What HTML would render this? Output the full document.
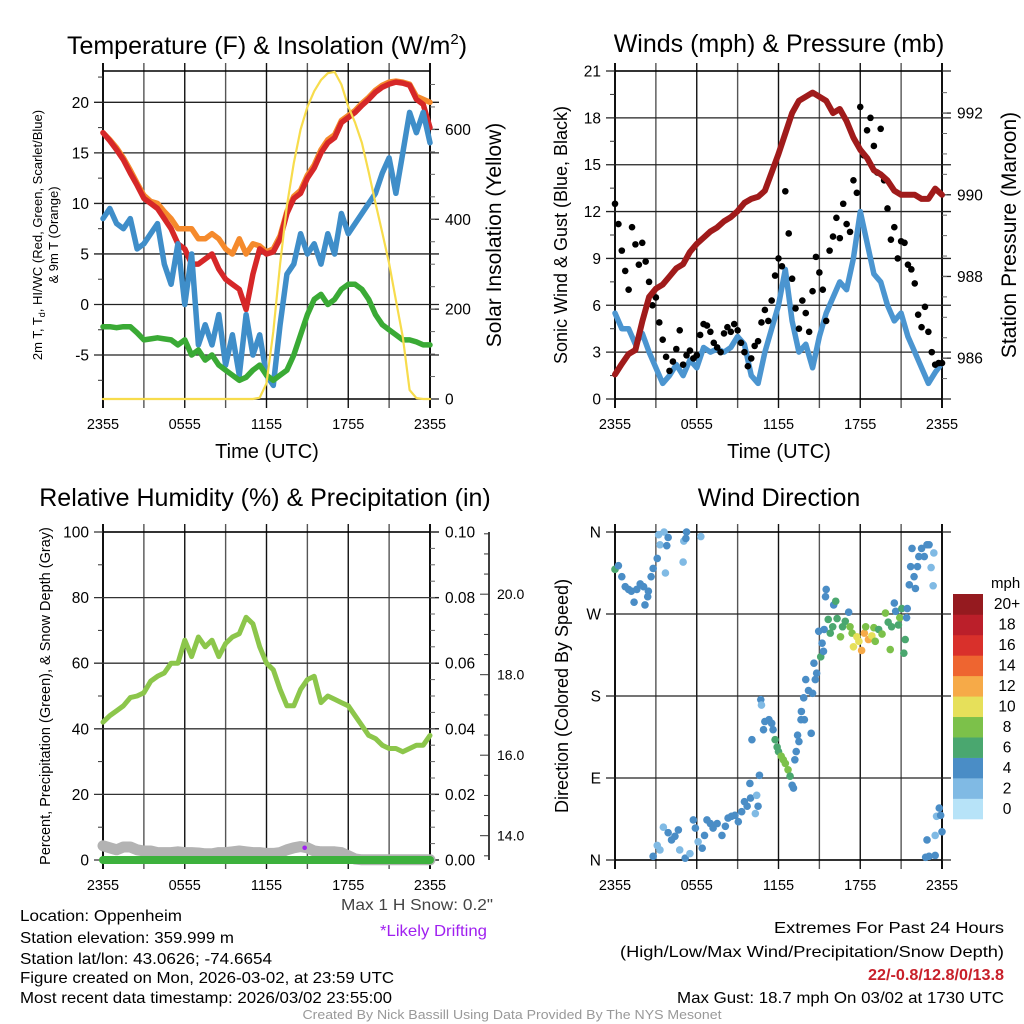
<!DOCTYPE html>
<html><head><meta charset="utf-8">
<style>
html,body{margin:0;padding:0;background:#fff;}
svg{display:block;font-family:"Liberation Sans",sans-serif;}
</style></head>
<body>
<svg id="fig" width="1024" height="1024" viewBox="0 0 1024 1024" xmlns="http://www.w3.org/2000/svg">
<rect x="0" y="0" width="1024" height="1024" fill="#fff"/>
<!-- titles -->
<text x="267" y="54" font-size="25" text-anchor="middle">Temperature (F) &amp; Insolation (W/m<tspan font-size="15" dy="-10">2</tspan><tspan dy="10">)</tspan></text>
<text x="779" y="52" font-size="25" text-anchor="middle">Winds (mph) &amp; Pressure (mb)</text>
<text x="265" y="506" font-size="25" text-anchor="middle">Relative Humidity (%) &amp; Precipitation (in)</text>
<text x="779" y="506" font-size="25" text-anchor="middle">Wind Direction</text>
<!-- axis titles -->
<text x="267" y="458" font-size="20" text-anchor="middle">Time (UTC)</text>
<text x="779" y="458" font-size="20" text-anchor="middle">Time (UTC)</text>
<text transform="translate(42,235) rotate(-90)" font-size="13" text-anchor="middle">2m T, T<tspan font-size="9" dy="3">d</tspan><tspan dy="-3">, HI/WC (Red, Green, Scarlet/Blue)</tspan></text>
<text transform="translate(58,235) rotate(-90)" font-size="13" text-anchor="middle">&amp; 9m T (Orange)</text>
<text transform="translate(501,235) rotate(-90)" font-size="21" text-anchor="middle">Solar Insolation (Yellow)</text>
<text transform="translate(567,235) rotate(-90)" font-size="18" text-anchor="middle">Sonic Wind &amp; Gust (Blue, Black)</text>
<text transform="translate(1016,235) rotate(-90)" font-size="21" text-anchor="middle">Station Pressure (Maroon)</text>
<text transform="translate(50,696) rotate(-90)" font-size="14.5" text-anchor="middle">Percent, Precipitation (Green), &amp; Snow Depth (Gray)</text>
<text transform="translate(568,696) rotate(-90)" font-size="18" text-anchor="middle">Direction (Colored By Speed)</text>
<!-- footer text -->
<g font-size="16" fill="#000">
<text x="20" y="921" textLength="162" lengthAdjust="spacingAndGlyphs">Location: Oppenheim</text>
<text x="20" y="943" textLength="214" lengthAdjust="spacingAndGlyphs">Station elevation: 359.999 m</text>
<text x="20" y="964" textLength="252" lengthAdjust="spacingAndGlyphs">Station lat/lon: 43.0626; -74.6654</text>
<text x="20" y="983" textLength="374" lengthAdjust="spacingAndGlyphs">Figure created on Mon, 2026-03-02, at 23:59 UTC</text>
<text x="20" y="1003" textLength="372" lengthAdjust="spacingAndGlyphs">Most recent data timestamp: 2026/03/02 23:55:00</text>
<text x="1004" y="933" text-anchor="end" textLength="230" lengthAdjust="spacingAndGlyphs">Extremes For Past 24 Hours</text>
<text x="1004" y="957" text-anchor="end" textLength="384" lengthAdjust="spacingAndGlyphs">(High/Low/Max Wind/Precipitation/Snow Depth)</text>
<text x="1004" y="980" text-anchor="end" font-weight="bold" fill="#c8202a" textLength="136" lengthAdjust="spacingAndGlyphs">22/-0.8/12.8/0/13.8</text>
<text x="1004" y="1003" text-anchor="end" textLength="327" lengthAdjust="spacingAndGlyphs">Max Gust: 18.7 mph On 03/02 at 1730 UTC</text>
<text x="493" y="910" text-anchor="end" fill="#444" textLength="152" lengthAdjust="spacingAndGlyphs">Max 1 H Snow: 0.2"</text>
<text x="487" y="936" text-anchor="end" fill="#a020f0" textLength="107" lengthAdjust="spacingAndGlyphs">*Likely Drifting</text>
<text x="512" y="1019" text-anchor="middle" font-size="13" fill="#999" textLength="419" lengthAdjust="spacingAndGlyphs">Created By Nick Bassill Using Data Provided By The NYS Mesonet</text>
</g>
<g id="layer"></g>
</svg>
<script>
// ===== data (half-hourly, 2355 -> 2355 UTC) =====
const temp2m = [17,16.2,15.3,14.3,13,11.8,10.5,10,9.5,8.5,7.5,6,5.5,4,4,4.5,5,3.5,2.5,2,1.5,-0.5,3,5.5,5,5.2,6.5,9,10.5,11,12.5,13.5,15,16,16.5,18,18.5,19,19.7,20.3,21,21.5,21.8,22,21.9,21.7,20.3,19.8,17.5];
const temp9m = [17,16.3,15.5,14.5,13.3,12,10.8,10.2,10,9.2,8.5,7.5,7.5,7.5,6.5,6.5,7,6.5,5.5,5,6.5,5,6,5.8,5.2,5.5,6.8,9.2,10.7,11.3,12.8,13.8,15.3,16.3,16.8,18.2,18.7,19.2,19.9,20.5,21.2,21.7,22,22.1,22,21.8,20.6,20.3,20];
const dewpoint = [-2.2,-2.2,-2.3,-2.2,-2.2,-2.8,-3.5,-3.4,-3.3,-3.4,-3.5,-4,-3.5,-5,-4.5,-5.5,-5,-6,-6.5,-7,-7.5,-7.2,-6.5,-6,-7,-7.5,-7,-6.5,-5,-3,-1,0.5,1,0,0.5,1.5,2,2,1.5,0.5,-1,-2,-2.5,-3,-3.5,-3.5,-3.7,-4,-4];
const windChill = [8.5,9.5,8,7.5,8.5,5.5,6,7,8,4,2,6,0,5,-4,-2,-4,-1,-6,-3,-7,-1,-5,-3,-7,-8,-2,3,4,7,5,6,4,7,5,9,7,8,9,10,11,13,14.5,11,15,19,17,19,16];
const solar = [0,0,0,0,0,0,0,0,0,0,0,0,0,0,0,0,0,0,0,0,0,0,0,3,35,150,300,430,525,600,650,685,710,725,728,700,651,615,570,505,436,370,302,220,138,20,2,0,0];
const windSpeed = [5.5,4.5,4.5,3.5,4.2,3,2,1,1.5,2.2,1.5,2.5,2,3.3,3,3.2,3,3.3,4,3.5,1.5,1,3,4.5,6,8.3,5,3,3.5,2,4,5.5,6.5,7.5,7,9,12,10,8,7.5,6,5,5.5,4,3,2,1,1.7,2.3];
const pressure = [985.6,985.86,986.1,986.2,986.9,987.5,987.7,987.8,988,988.2,988.3,988.6,988.8,988.95,989.1,989.2,989.35,989.45,989.6,989.8,989.9,989.95,990.1,990.55,991,991.5,992,992.3,992.4,992.5,992.4,992.3,992,992.1,991.8,991.4,991.1,990.9,990.6,990.5,990.35,990.1,990,990,990,989.9,989.9,990.15,990];
// gusts every quarter hour
const gusts = [12.5,11.2,9.5,8.2,7,11,9.9,8.6,10,8.8,7.5,6,6.5,4.9,3.8,2.7,1.8,2.4,3.2,4.4,2.2,2.8,3.1,2.6,2.8,4.1,4.8,4.7,4.3,3.6,3.3,3.0,4.2,4.6,4.3,4.8,4.4,3.6,3.0,2.1,2.6,3.4,3.7,4.9,5.7,5.0,6.3,7.9,9.0,8.5,13.3,10.6,7.7,5.8,4.5,6.3,5.5,4.3,6.9,9.1,8.1,7.0,5.0,9.5,10.4,11.6,10.3,12.5,11.2,10.7,14,13.2,18.7,15.6,17.2,18.0,16.2,14.5,17.3,14.0,12.2,10.2,11.0,9.0,10.1,10.0,8.6,8.3,7.4,5.4,4.6,5.9,4.3,3.0,2.2,2.3,2.3];
const relHum = [42,44,45.5,47,49.5,50,51,54.5,56,57,60,60,67,62,68,65,67,62,66,68,69,74,72,65,60,58,52,47,47,52,55,56,48,50,49,48,47,44,41,38,37,35,34,34,33,34,35,35,38];
const snowDepth = [13.75,13.7,13.65,13.72,13.72,13.65,13.62,13.62,13.58,13.58,13.58,13.6,13.58,13.58,13.57,13.55,13.55,13.58,13.58,13.6,13.62,13.6,13.58,13.58,13.56,13.56,13.58,13.65,13.7,13.73,13.7,13.62,13.6,13.6,13.6,13.58,13.5,13.42,13.4,13.4,13.4,13.4,13.4,13.4,13.4,13.4,13.4,13.4,13.4];
const precip = [0,0,0,0,0,0,0,0,0,0,0,0,0,0,0,0,0,0,0,0,0,0,0,0,0,0,0,0,0,0,0,0,0,0,0,0,0,0,0,0,0,0,0,0,0,0,0,0,0];
const driftHours = [14.8];
const driftValues = [13.7];
// wind direction scatter
const dirHours = [0,0.25,0.5,0.75,1,1.2,1.4,1.6,1.85,2.1,2.2,2.4,2.45,2.65,2.8,3.1,3.2,3.3,3.6,3.7,3.8,3.9,5.0,5.05,5.2,5.25,6.3,
2.8,3.1,3.3,3.55,3.9,4.15,4.4,4.65,4.75,5.15,5.5,5.75,5.9,6.1,6.4,6.57,6.75,7.0,7.2,7.5,7.85,8.1,8.3,8.55,8.8,9.05,9.3,9.5,9.7,9.95,10.3,10.4,10.5,10.6,9.9,10.05,10.7,10.75,10.9,11.0,11.3,11.5,11.6,11.75,11.9,12.0,12.2,12.35,12.5,12.7,12.85,13.0,13.1,13.2,13.3,13.4,13.5,13.65,13.68,13.85,13.9,14.0,14.2,14.4,14.5,14.6,14.7,14.8,14.95,15.1,15.2,15.3,15.35,15.45,15.5,15.65,15.8,15.98,16.05,16.2,16.3,16.55,16.7,16.9,17.15,17.25,17.4,17.5,17.75,17.9,18.1,18.3,18.4,18.6,18.85,19.0,19.1,19.35,19.6,19.85,20.05,20.2,20.3,20.5,20.6,20.8,20.9,21.05,21.2,21.3,21.45,21.4,21.6,21.7,21.8,21.95,22.05,22.2,22.3,22.5,22.7,22.9,23.05,23.2,23.35,23.4,
22.9,22.8,23.05,23.5,23.5,23.6,23.8,23.9,24];
const dirDegrees = [319,323,311,300,297,295,283,297,303,300,280,289,295,311,320,331,357,346,360,315,345,354,327,350,353,360,355,
4,16,11,36,30,22,26,33,11,2,7,44,35,20,13,27,44,40,35,40,27,37,46,48,49,42,53,64,59,68,51,71,59,93,84,132,176,170,143,152,154,150,143,132,124,119,114,110,106,99,92,82,79,110,119,137,130,154,163,178,154,198,186,139,183,216,198,205,251,223,238,229,253,289,297,264,249,256,280,284,265,245,256,262,272,256,249,234,245,240,230,249,256,242,246,255,240,253,248,271,261,231,256,282,273,258,266,276,227,242,276,266,302,322,342,311,298,322,333,342,333,346,346,321,301,337,
22,3,4,5,27,48,57,49,31];
const dirSpeeds = [6.5,4.5,4.5,4.5,4.5,4.5,4.5,3,3,4.5,4.5,4.5,3,3,3,3,1,1,1,1,3,3,1,1,3,3,1,
3,1,1,1,3,3,3,3,1,3,1,3,3,1,3,3,4.5,4.5,3,4.5,3,3,3,4.5,4.5,4.5,4.5,4.5,3,3,1,1,3,4.5,3,3,3,1,3,4.5,4.5,4.5,4.5,6.5,6.5,6.5,8.5,8.5,8.5,8.5,6.5,4.5,4.5,3,3,3,3,4.5,3,3,4.5,4.5,3,3,3,3,4.5,3,3,6.5,4.5,4.5,3,4.5,3,6.5,6.5,6.5,4.5,6.5,6.5,8.5,6.5,6.5,4.5,8.5,8.5,10.5,10.5,10.5,12.5,12.5,8.5,12.5,10.5,8.5,8.5,6.5,8.5,8.5,6.5,8.5,6.5,4.5,4.5,6.5,8.5,6.5,6.5,6.5,4.5,4.5,4.5,4.5,4.5,4.5,3,3,3,4.5,4.5,3,3,1,1,1,
3,3,3,3,1,1,3,3,3];
const speedBins = ["0","2","4","6","8","10","12","14","16","18","20+"];
const speedColors = ["#b7e3f8","#80bae4","#4a8dc6","#4aa76f","#7cc14a","#e6e05a","#f6aa48","#ee6530","#d9302b","#bb1f2a","#951a1f"];
const timeTickLabels = ["2355","0555","1155","1755","2355"];
const tempTicks = [-5,0,5,10,15,20];
const solarTicks = [0,200,400,600];
const windTicks = [0,3,6,9,12,15,18,21];
const pressTicks = [986,988,990,992];
const rhTicks = [0,20,40,60,80,100];
const precipTicks = ["0.00","0.02","0.04","0.06","0.08","0.10"];
const snowTicks = ["14.0","16.0","18.0","20.0"];
const dirTicks = ["N","E","S","W","N"];

// ===== drawing =====
const NS = "http://www.w3.org/2000/svg";
const layer = document.getElementById("layer");
function mk(tag, parent){ const e = document.createElementNS(NS, tag); (parent||layer).appendChild(e); return e; }
function lin(d0,d1,r0,r1){ return v => r0 + (v-d0)/(d1-d0)*(r1-r0); }
function halfHour(i){ return i*0.5; }
function quarterHour(i){ return i*0.25; }

function frame(P, name, leftTicks, leftScale, leftLabels, leftMinor, rightTicks, rightScale, rightLabels, rightMinor, gridColor){
  const g = mk("g");
  
  
  for (let k=0;k<=8;k++){
    const x = P.x0 + k*(P.x1-P.x0)/8;
    const l = mk("line", g);
    
    
    l.setAttribute("x1",x); l.setAttribute("x2",x); l.setAttribute("y1",P.y0-8); l.setAttribute("y2",P.y1+9);
    l.setAttribute("stroke", (k%2==0)?"#111":"#555"); l.setAttribute("stroke-width", (k==0||k==8)?2:1.4);
  }
  leftTicks.forEach((v,i)=>{
    const y = leftScale(v);
    const l = mk("line", g);
    
    
    l.setAttribute("x1",P.x0-9); l.setAttribute("x2",P.x1+9); l.setAttribute("y1",y); l.setAttribute("y2",y);
    l.setAttribute("stroke", gridColor||"#222"); l.setAttribute("stroke-width",1.3);
    const t = mk("text", g);
    
    
    t.setAttribute("x",P.x0-14); t.setAttribute("y",y+5.5); t.setAttribute("font-size","15.5"); t.setAttribute("text-anchor","end");
    t.textContent = leftLabels[i];
  });
  leftMinor.forEach(v=>{
    const y = leftScale(v); const l = mk("line", g);
    
    
    l.setAttribute("x1",P.x0-5); l.setAttribute("x2",P.x0); l.setAttribute("y1",y); l.setAttribute("y2",y);
    l.setAttribute("stroke","#333"); l.setAttribute("stroke-width",1);
  });
  if (rightTicks){
    rightTicks.forEach((v,i)=>{
      const y = rightScale(v);
      const l = mk("line", g);
      
      
      l.setAttribute("x1",P.x1); l.setAttribute("x2",P.x1+9); l.setAttribute("y1",y); l.setAttribute("y2",y);
      l.setAttribute("stroke","#222"); l.setAttribute("stroke-width",1.3);
      const t = mk("text", g);
      
      
      t.setAttribute("x",P.x1+15); t.setAttribute("y",y+5.5); t.setAttribute("font-size","15.5");
      t.textContent = rightLabels[i];
    });
    rightMinor.forEach(v=>{
      const y = rightScale(v); const l = mk("line", g);
      
      
      l.setAttribute("x1",P.x1); l.setAttribute("x2",P.x1+5); l.setAttribute("y1",y); l.setAttribute("y2",y);
      l.setAttribute("stroke","#666"); l.setAttribute("stroke-width",1);
    });
  }
  [[P.x0,P.y0,P.x1,P.y0],[P.x0,P.y1,P.x1,P.y1]].forEach(c=>{
    const l = mk("line", g);
    
    
    l.setAttribute("x1",c[0]); l.setAttribute("y1",c[1]); l.setAttribute("x2",c[2]); l.setAttribute("y2",c[3]);
    l.setAttribute("stroke","#000"); l.setAttribute("stroke-width",1.5);
  });
  timeTickLabels.forEach((s,i)=>{
    const t = mk("text", g);
    
    
    t.setAttribute("x", P.x0 + i*(P.x1-P.x0)/4); t.setAttribute("y", P.y1+30);
    t.setAttribute("font-size","14.5"); t.setAttribute("text-anchor","middle");
    t.textContent = s;
  });
}
function series(vals, tfun, xs, ys, color, w, name){
  const pts = vals.map((v,i)=> xs(tfun(i)).toFixed(1)+","+ys(v).toFixed(1)).join(" ");
  const p = mk("polyline");
  
  
  p.setAttribute("points", pts); p.setAttribute("fill","none"); p.setAttribute("stroke",color);
  p.setAttribute("stroke-width", w); p.setAttribute("stroke-linejoin","round"); p.setAttribute("stroke-linecap","round");
  return p;
}
function dots(hours, vals, xs, ys, r, colorFn, name){
  vals.forEach((v,i)=>{
    const c = mk("circle");
    
    
    c.setAttribute("cx", xs(hours[i])); c.setAttribute("cy", ys(v)); c.setAttribute("r", r);
    c.setAttribute("fill", colorFn(i));
  });
}
function range(a,b,s){ const r=[]; for(let v=a; v<=b+1e-9; v+=s) r.push(+v.toFixed(4)); return r; }

// Panel 1
const P1 = {x0:103,x1:430,y0:71,y1:399};
const x1s = lin(0,24,P1.x0,P1.x1);
const tY = lin(-9.35,23.1,399,71);
const sY = lin(0,730,399,71);
frame(P1,"temp",tempTicks,tY,tempTicks.map(String),range(-7.5,22.5,5),solarTicks,sY,solarTicks.map(String),range(50,700,50));
series(temp9m, halfHour, x1s, tY, "#f58a2c", 5.5, "temp-9m-line");
series(temp2m, halfHour, x1s, tY, "#d62728", 5.5, "temp-2m-line");
series(windChill, halfHour, x1s, tY, "#3f8ec9", 5.5, "windchill-line");
series(dewpoint, halfHour, x1s, tY, "#3aaa35", 5.5, "dewpoint-line");
series(solar, halfHour, x1s, sY, "#f7dc4c", 2.2, "solar-line");

// Panel 2
const P2 = {x0:615,x1:942,y0:71,y1:399};
const x2s = lin(0,24,P2.x0,P2.x1);
const wY = lin(0,21,399,71);
const pY = lin(985,993.03,399,71);
frame(P2,"wind",windTicks,wY,windTicks.map(String),range(1.5,19.5,3),pressTicks,pY,pressTicks.map(String),range(985.5,992.5,0.5));
series(windSpeed, halfHour, x2s, wY, "#4b95d0", 5.5, "wind-speed-line");
dots(gusts.map((v,i)=>quarterHour(i)), gusts, x2s, wY, 3.3, ()=>"#000", "gust-dot");
series(pressure, halfHour, x2s, pY, "#a01b1b", 6, "pressure-line");

// Panel 3
const P3 = {x0:103,x1:430,y0:532,y1:860};
const x3s = lin(0,24,P3.x0,P3.x1);
const rY = lin(0,100,860,532);
const prY = lin(0,0.1,860,532);
const sdY = lin(13.396,21.545,860,532);
frame(P3,"rh",rhTicks,rY,rhTicks.map(String),range(10,90,20),precipTicks.map(Number),prY,precipTicks,range(0.005,0.095,0.005),"#333");
// snow depth axis
(function(){
  const g = mk("g");
  
  
  const l = mk("line", g);
  
  
  l.setAttribute("x1",489); l.setAttribute("x2",489); l.setAttribute("y1",532); l.setAttribute("y2",860);
  l.setAttribute("stroke","#000"); l.setAttribute("stroke-width",1.5);
  range(13.5,21.5,0.5).forEach(v=>{
    const m = mk("line", g);
    
    
    const major = Math.abs(v%2)<1e-6;
    m.setAttribute("x1",major?480:484); m.setAttribute("x2",489); m.setAttribute("y1",sdY(v)); m.setAttribute("y2",sdY(v));
    m.setAttribute("stroke","#333"); m.setAttribute("stroke-width",1);
  });
  snowTicks.forEach(s=>{
    const t = mk("text", g);
    
    
    t.setAttribute("x",497); t.setAttribute("y",sdY(Number(s))+5); t.setAttribute("font-size","14");
    t.textContent = s;
  });
})();
series(snowDepth, halfHour, x3s, sdY, "#b3b3b3", 11, "snow-depth-line");
series(precip, halfHour, x3s, prY, "#3db13d", 8, "precip-line");
series(relHum, halfHour, x3s, rY, "#8cc64b", 5, "rh-line");
dots(driftHours, driftValues, x3s, sdY, 2.3, ()=>"#a020f0", "drifting-dot");

// Panel 4
const P4 = {x0:615,x1:942,y0:532,y1:860};
const x4s = lin(0,24,P4.x0,P4.x1);
const dY = lin(0,360,860,532);
frame(P4,"dir",[0,90,180,270,360],dY,dirTicks,[],null,null,null,null);
function speedColor(s){ return speedColors[Math.min(10, Math.floor((s+1)/2))]; }
dots(dirHours, dirDegrees, x4s, dY, 3.8, i=>speedColor(dirSpeeds[i]), "direction-dot");
// legend
(function(){
  const g = mk("g");
  
  
  const t0 = mk("text", g);
  
  
  t0.setAttribute("x",991); t0.setAttribute("y",588); t0.setAttribute("font-size","15");
  t0.textContent = "mph";
  const h = 225/11;
  speedBins.forEach((lab,i)=>{
    const y = 819 - (i+1)*h;
    const r = mk("rect", g);
    
    
    r.setAttribute("x",953); r.setAttribute("y",y); r.setAttribute("width",30); r.setAttribute("height",h+0.3);
    r.setAttribute("fill",speedColors[i]);
    const t = mk("text", g);
    
    
    t.setAttribute("x",1007); t.setAttribute("y",y+h/2+5); t.setAttribute("font-size","15.5"); t.setAttribute("text-anchor","middle");
    t.textContent = lab;
  });
})();
</script>
</body></html>
